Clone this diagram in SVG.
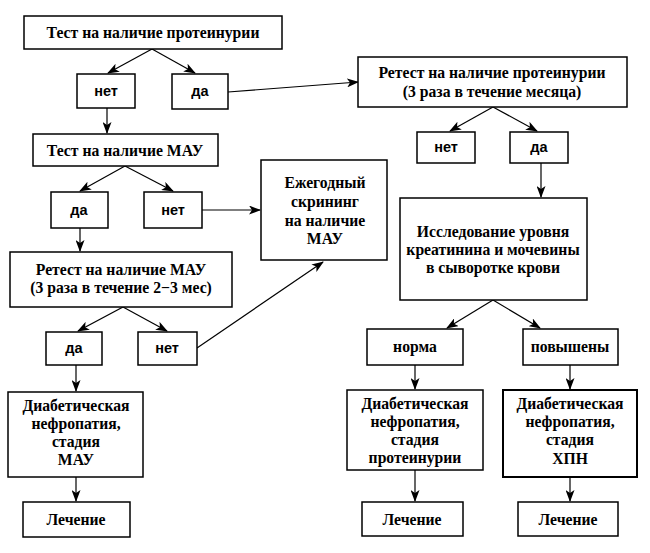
<svg xmlns="http://www.w3.org/2000/svg" width="650" height="553" viewBox="0 0 650 553">
<style>
.box{fill:#fff;stroke:#000;stroke-width:1.5}
.t{font-family:"Liberation Serif","DejaVu Serif",serif;font-weight:bold;font-size:15.7px;text-anchor:middle;fill:#000}
.s{font-family:"Liberation Sans","DejaVu Sans",sans-serif;font-weight:bold;font-size:14.5px;text-anchor:middle;fill:#000}
.c{stroke:#000;stroke-width:1.2;fill:none;marker-end:url(#ah)}
</style>
<defs>
<marker id="ah" markerWidth="12" markerHeight="9" refX="11" refY="4.5" orient="auto" markerUnits="userSpaceOnUse">
<path d="M0,0 L12,4.5 L0,9 L3,4.5 z" fill="#000"/>
</marker>
</defs>
<rect width="650" height="553" fill="#fff"/>
<g id="connectors">
<line class="c" x1="152" y1="49" x2="108" y2="73"/>
<line class="c" x1="152" y1="49" x2="195" y2="73"/>
<line class="c" x1="228" y1="92" x2="358" y2="82"/>
<line class="c" x1="493" y1="107" x2="450" y2="131"/>
<line class="c" x1="493" y1="107" x2="537" y2="131"/>
<line class="c" x1="541" y1="163" x2="541" y2="197"/>
<line class="c" x1="107" y1="108" x2="107" y2="133"/>
<line class="c" x1="125" y1="166" x2="80" y2="191"/>
<line class="c" x1="125" y1="166" x2="173" y2="191"/>
<line class="c" x1="202" y1="210" x2="260" y2="210"/>
<line class="c" x1="80" y1="228" x2="80" y2="251"/>
<line class="c" x1="123" y1="307" x2="78" y2="331"/>
<line class="c" x1="123" y1="307" x2="167" y2="331"/>
<line class="c" x1="197" y1="348" x2="323" y2="262"/>
<line class="c" x1="76" y1="365" x2="76" y2="391"/>
<line class="c" x1="76" y1="477" x2="76" y2="501"/>
<line class="c" x1="493" y1="300" x2="447" y2="328"/>
<line class="c" x1="493" y1="300" x2="540" y2="328"/>
<line class="c" x1="415" y1="365" x2="415" y2="389"/>
<line class="c" x1="415" y1="470" x2="415" y2="501"/>
<line class="c" x1="570" y1="365" x2="570" y2="389"/>
<line class="c" x1="570" y1="477" x2="570" y2="501"/>
</g>
<g id="n1"><rect class="box" x="24" y="16" width="258" height="33"/><text class="t" x="153" y="38">Тест на наличие протеинурии</text></g>
<g id="n2"><rect class="box" x="77" y="74" width="58" height="34"/><text class="s" x="106" y="96">нет</text></g>
<g id="n3"><rect class="box" x="172" y="74" width="56" height="35"/><text class="s" x="200" y="96">да</text></g>
<g id="n4"><rect class="box" x="358" y="57" width="269" height="50"/><text class="t" x="492" y="78">Ретест на наличие протеинурии</text><text class="t" x="492" y="97">(3 раза в течение месяца)</text></g>
<g id="n5"><rect class="box" x="417" y="132" width="58" height="31"/><text class="s" x="446" y="152">нет</text></g>
<g id="n6"><rect class="box" x="510" y="132" width="58" height="31"/><text class="s" x="539" y="152">да</text></g>
<g id="n7"><rect class="box" x="33" y="134" width="185" height="32"/><text class="t" x="125" y="156">Тест на наличие МАУ</text></g>
<g id="n8"><rect class="box" x="51" y="192" width="57" height="36"/><text class="s" x="79" y="215">да</text></g>
<g id="n9"><rect class="box" x="144" y="192" width="58" height="36"/><text class="s" x="173" y="215">нет</text></g>
<g id="n10"><rect class="box" x="261" y="160" width="126" height="100"/><text class="t" x="325" y="188">Ежегодный</text><text class="t" x="325" y="207">скрининг</text><text class="t" x="325" y="226">на наличие</text><text class="t" x="325" y="244">МАУ</text></g>
<g id="n11"><rect class="box" x="400" y="198" width="187" height="102"/><text class="t" x="493" y="237">Исследование уровня</text><text class="t" x="493" y="255">креатинина и мочевины</text><text class="t" x="493" y="273">в сыворотке крови</text></g>
<g id="n12"><rect class="box" x="10" y="252" width="222" height="55"/><text class="t" x="121" y="275">Ретест на наличие МАУ</text><text class="t" x="121" y="293">(3 раза в течение 2−3 мес)</text></g>
<g id="n13"><rect class="box" x="46" y="332" width="56" height="33"/><text class="s" x="74" y="353">да</text></g>
<g id="n14"><rect class="box" x="138" y="332" width="59" height="33"/><text class="s" x="167" y="353">нет</text></g>
<g id="n15"><rect class="box" x="367" y="329" width="96" height="36"/><text class="t" x="415" y="352">норма</text></g>
<g id="n16"><rect class="box" x="523" y="329" width="95" height="36"/><text class="t" x="570" y="352">повышены</text></g>
<g id="n17"><rect class="box" x="8" y="392" width="135" height="85"/><text class="t" x="76" y="411">Диабетическая</text><text class="t" x="76" y="429">нефропатия,</text><text class="t" x="76" y="447">стадия</text><text class="t" x="76" y="465">МАУ</text></g>
<g id="n18"><rect class="box" x="347" y="390" width="136" height="80"/><text class="t" x="415" y="409">Диабетическая</text><text class="t" x="415" y="427">нефропатия,</text><text class="t" x="415" y="445">стадия</text><text class="t" x="415" y="463">протеинурии</text></g>
<g id="n19"><rect class="box" x="503" y="390" width="134" height="87" style="stroke-width:2"/><text class="t" x="570" y="409">Диабетическая</text><text class="t" x="570" y="427">нефропатия,</text><text class="t" x="570" y="445">стадия</text><text class="t" x="570" y="464">ХПН</text></g>
<g id="n20"><rect class="box" x="23" y="502" width="107" height="35"/><text class="t" x="76" y="525">Лечение</text></g>
<g id="n21"><rect class="box" x="362" y="502" width="101" height="34"/><text class="t" x="412" y="525">Лечение</text></g>
<g id="n22"><rect class="box" x="518" y="502" width="100" height="34"/><text class="t" x="568" y="525">Лечение</text></g>
</svg>
